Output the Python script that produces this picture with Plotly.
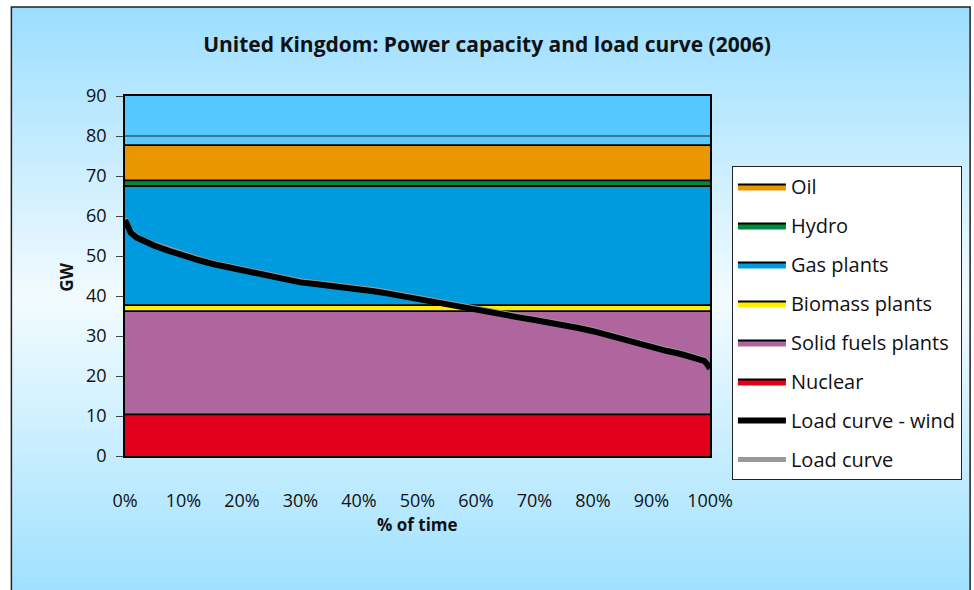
import plotly.graph_objects as go

# Installed capacity by technology (GW), stacked bottom to top
technologies = ["Nuclear", "Solid fuels plants", "Biomass plants", "Gas plants", "Hydro", "Oil"]
capacity_gw = [10.4, 25.8, 1.5, 29.8, 1.4, 8.8]
tech_colors = ["#E2001A", "#AF659D", "#FFEE00", "#009ADE", "#00893B", "#EA9600"]
legend_rank = [6, 5, 4, 3, 2, 1]

# Load duration curve (share of time, GW)
time_share = [0.0, 0.005, 0.01, 0.02, 0.03, 0.05, 0.075, 0.10, 0.125, 0.15, 0.175,
              0.20, 0.225, 0.25, 0.275, 0.30, 0.325, 0.35, 0.375, 0.40, 0.425,
              0.45, 0.475, 0.50, 0.525, 0.55, 0.575, 0.60, 0.625, 0.65, 0.675,
              0.70, 0.725, 0.75, 0.775, 0.80, 0.825, 0.85, 0.875, 0.90, 0.925,
              0.95, 0.975, 0.99, 0.995, 1.0]
load_minus_wind = [59.0, 57.0, 55.8, 54.6, 53.8, 52.6, 51.3, 50.0, 49.0, 48.0, 47.2,
                   46.3, 45.5, 44.7, 44.0, 43.4, 43.0, 42.6, 42.2, 41.7, 41.2,
                   40.6, 39.9, 39.2, 38.5, 37.8, 37.2, 36.5, 35.8, 35.2, 34.6,
                   34.0, 33.4, 32.8, 32.0, 31.2, 30.2, 29.0, 28.0, 27.2, 26.3,
                   25.5, 24.6, 23.8, 23.0, 21.8]
load_total = [59.4, 57.4, 56.2, 55.0, 54.2, 53.0, 51.7, 50.4, 49.4, 48.4, 47.6,
              46.7, 45.9, 45.1, 44.4, 43.8, 43.4, 43.0, 42.6, 42.1, 41.6,
              41.0, 40.3, 39.6, 38.9, 38.2, 37.6, 36.9, 36.2, 35.6, 35.0,
              34.4, 33.8, 33.2, 32.4, 31.6, 30.6, 29.4, 28.4, 27.6, 26.7,
              25.9, 25.0, 24.2, 23.4, 22.2]

x_ticks = [0.0, 0.1, 0.2, 0.3, 0.4, 0.5, 0.6, 0.7, 0.8, 0.9, 1.0]
x_ticktext = ["0%", "10%", "20%", "30%", "40%", "50%", "60%", "70%", "80%", "90%", "100%"]
y_ticks = [0, 10, 20, 30, 40, 50, 60, 70, 80, 90]
ref_line_gw = 80

W, H = 974, 590
L, R, T, B = 125, 262, 96, 134
PW, PH = W - L - R, H - T - B

FONT = "Open Sans"


def px_x(p):
    return (p - L) / PW


def px_y(p):
    return (H - B - p) / PH


def mix(c1, c2, t):
    return "rgb(%d,%d,%d)" % tuple(round(a + (b - a) * t) for a, b in zip(c1, c2))


fig = go.Figure()

for name, gw, col, rk in zip(technologies, capacity_gw, tech_colors, legend_rank):
    fig.add_trace(go.Scatter(
        x=[0.0, 1.0], y=[gw, gw], name=name, mode="lines",
        stackgroup="capacity", fillcolor=col,
        line=dict(color="#000000", width=1.8),
        legendrank=rk, legendgroup=name, hoverinfo="skip",
    ))

fig.add_trace(go.Scatter(
    x=time_share, y=load_total, name="Load curve", mode="lines",
    line=dict(color="#999999", width=5), legendrank=8, legendgroup="load",
))
fig.add_trace(go.Scatter(
    x=time_share, y=load_minus_wind, name="Load curve - wind", mode="lines",
    line=dict(color="#000000", width=6), legendrank=7, legendgroup="wind",
))

shapes = []
# chart background: vertical blue-white-blue gradient inside the frame
top_c, mid_c, bot_c = (156, 222, 255), (242, 251, 255), (160, 225, 255)
y_start, y_mid, y_end, step = 7, 300, 600, 4
p = y_start
while p < y_end:
    q = min(p + step, y_end)
    c = (p + q) / 2
    if c < y_mid:
        col = mix(top_c, mid_c, (c - y_start) / (y_mid - y_start))
    else:
        col = mix(mid_c, bot_c, (c - y_mid) / (590 - y_mid))
    shapes.append(dict(type="rect", xref="paper", yref="paper", layer="below",
                       x0=px_x(11), x1=px_x(973), y0=px_y(q), y1=px_y(p) + 0.0005,
                       fillcolor=col, line=dict(width=0)))
    p = q

# plot-area fill (visible above the stacked capacity)
pa_top, pa_bot = (85, 200, 255), (112, 212, 255)
n = 12
for i in range(n):
    shapes.append(dict(type="rect", xref="x domain", yref="y domain", layer="below",
                       x0=0, x1=1, y0=1 - (i + 1) / n - 0.002, y1=1 - i / n,
                       fillcolor=mix(pa_top, pa_bot, i / (n - 1)), line=dict(width=0)))

# outer frame
shapes.append(dict(type="rect", xref="paper", yref="paper", layer="above",
                   x0=px_x(11), x1=px_x(973), y0=px_y(600), y1=px_y(7),
                   fillcolor="rgba(0,0,0,0)", line=dict(color="#222222", width=1.5)))
# reference line at 80 GW
shapes.append(dict(type="line", xref="x domain", yref="y", layer="above",
                   x0=0, x1=1, y0=ref_line_gw, y1=ref_line_gw,
                   line=dict(color="#222222", width=1)))

annotations = [
    dict(text="<b>GW</b>", xref="paper", yref="paper", x=px_x(52), y=px_y(277),
         textangle=-90, showarrow=False, font=dict(family=FONT, size=17, color="#111111")),
    dict(text="<b>% of time</b>", xref="paper", yref="paper", x=0.5, y=px_y(538),
         showarrow=False, font=dict(family=FONT, size=17, color="#111111")),
]

fig.update_layout(
    width=W, height=H,
    margin=dict(l=L, r=R, t=T, b=B),
    paper_bgcolor="#FFFFFF",
    plot_bgcolor="#66CCFF",
    title=dict(text="<b>United Kingdom: Power capacity and load curve (2006)</b>",
               x=0.5, xref="container", xanchor="center",
               y=1 - 45 / H, yref="container", yanchor="middle",
               font=dict(family=FONT, size=21, color="#111111")),
    font=dict(family=FONT, size=18, color="#111111"),
    shapes=shapes,
    annotations=annotations,
    showlegend=True,
    legend=dict(
        x=px_x(734), y=px_y(166), xanchor="left", yanchor="top",
        bgcolor="#FFFFFF", bordercolor="#222222", borderwidth=1,
        traceorder="grouped", tracegroupgap=10,
        font=dict(family=FONT, size=20, color="#111111"),
        itemwidth=48,
    ),
    xaxis=dict(
        range=[0, 1], tickvals=x_ticks, ticktext=x_ticktext,
        showgrid=False, zeroline=False, ticks="",
        showline=True, linecolor="#000000", linewidth=1.5, mirror=True,
        ticklabelstandoff=28,
        tickfont=dict(family=FONT, size=18, color="#111111"),
    ),
    yaxis=dict(
        range=[0, 90], tickvals=y_ticks,
        showgrid=False, zeroline=False, ticks="outside", ticklen=7,
        tickcolor="#444444",
        showline=True, linecolor="#000000", linewidth=1.5, mirror=True,
        ticklabelstandoff=6,
        tickfont=dict(family=FONT, size=18, color="#111111"),
    ),
    hovermode=False,
)

fig.write_html("out.html")
